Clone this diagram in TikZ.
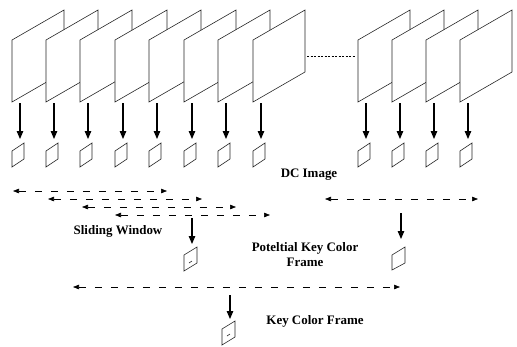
\documentclass[tikz,border=0pt]{standalone}
\usepackage{fontspec}
\setmainfont{Liberation Serif}
\usetikzlibrary{arrows.meta}
\begin{document}
\begin{tikzpicture}[x=1bp,y=-1bp,
  bigframe/.style={draw=black!85,fill=white,line width=0.6pt},
  thumb/.style={draw=black!85,line width=0.6pt},
  downarrow/.style={line width=1.1pt,-{Triangle[length=8bp,width=6.5bp]}},
  window/.style={line width=0.6pt,dash pattern=on 7bp off 9bp,
    {Triangle[length=6bp,width=4.5bp]}-{Triangle[length=6bp,width=4.5bp]}},
  dotline/.style={line width=0.6pt,dash pattern=on 2bp off 1.5bp},
  lbl/.style={font=\bfseries\fontsize{13}{15}\selectfont,align=center,inner sep=0pt}]
\useasboundingbox (0,0) rectangle (517,346);

% first group of frames
\foreach \x [count=\i] in {12,46,80,115,149,184,218,253} {
  \draw[bigframe] (\x,40) -- (\x+52,10) -- (\x+52,72) -- (\x,102) -- cycle;
  \coordinate (fa\i) at (\x+8,103);
  \coordinate (fb\i) at (\x+8,139);
  \draw[downarrow] (fa\i) -- (fb\i);
  \draw[thumb] (\x,151) -- (\x+12,143) -- (\x+12,159) -- (\x,167) -- cycle;
}
% second group of frames
\foreach \x [count=\i] in {358,392,426,460} {
  \draw[bigframe] (\x,40) -- (\x+52,10) -- (\x+52,72) -- (\x,102) -- cycle;
  \coordinate (ga\i) at (\x+8,103);
  \coordinate (gb\i) at (\x+8,139);
  \draw[downarrow] (ga\i) -- (gb\i);
  \draw[thumb] (\x,151) -- (\x+12,143) -- (\x+12,159) -- (\x,167) -- cycle;
}
% dotted link between the groups
\coordinate (gapL) at (307,56);
\coordinate (gapR) at (356,56);
\draw[dotline] (gapL) -- (gapR);

\node[lbl] (dc) at (309,175) {DC Image};

% sliding windows
\coordinate (w1l) at (13,191);  \coordinate (w1r) at (167,191);
\coordinate (w2l) at (48,199);  \coordinate (w2r) at (202,199);
\coordinate (w3l) at (82,207);  \coordinate (w3r) at (236,207);
\coordinate (w4l) at (115,215); \coordinate (w4r) at (270,215);
\coordinate (w5l) at (325,199); \coordinate (w5r) at (478,199);
\draw[window] (w1l) -- (w1r);
\draw[window] (w2l) -- (w2r);
\draw[window] (w3l) -- (w3r);
\draw[window] (w4l) -- (w4r);
\draw[window] (w5l) -- (w5r);

\node[lbl] (sw) at (118,231) {Sliding Window};

% potential key frames
\coordinate (p1a) at (192,218); \coordinate (p1b) at (192,244);
\coordinate (p2a) at (401,213); \coordinate (p2b) at (401,239);
\draw[downarrow] (p1a) -- (p1b);
\draw[downarrow] (p2a) -- (p2b);
\draw[thumb] (184,255) -- (197,247) -- (197,263) -- (184,271) -- cycle;
\draw[thumb] (189,263) -- (192,261);
\draw[thumb] (392,255) -- (405,247) -- (405,263) -- (392,270) -- cycle;

\node[lbl] (pk) at (305,255) {Poteltial Key Color\\Frame};

% final window
\coordinate (w6l) at (73,287); \coordinate (w6r) at (400,287);
\draw[window] (w6l) -- (w6r);

\coordinate (ka) at (230,295); \coordinate (kb) at (230,319);
\draw[downarrow] (ka) -- (kb);
\draw[thumb] (222,329) -- (235,321) -- (235,337) -- (222,345) -- cycle;
\draw[thumb] (227,336) -- (230,334);

\node[lbl] (kc) at (315,321) {Key Color Frame};
\end{tikzpicture}
\end{document}
